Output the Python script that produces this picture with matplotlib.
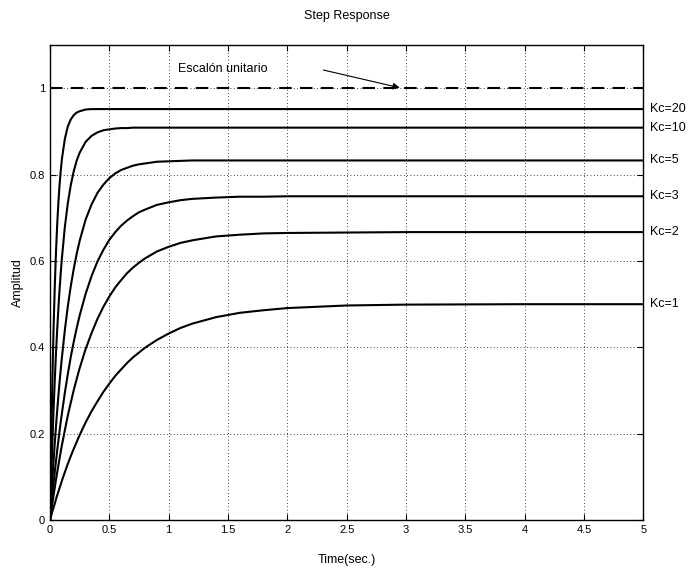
import matplotlib.pyplot as plt

plt.rcParams['font.family'] = ['Liberation Sans', 'DejaVu Sans']

# sample times (s) and amplitudes
t = [0, 0.01, 0.02, 0.03, 0.04, 0.05, 0.06, 0.07, 0.08, 0.09,
     0.1, 0.125, 0.15, 0.175, 0.2, 0.225, 0.25, 0.3, 0.35, 0.4,
     0.45, 0.5, 0.55, 0.6, 0.65, 0.7, 0.75, 0.8, 0.9, 1.0,
     1.1, 1.2, 1.4, 1.6, 1.8, 2.0, 2.5, 3.0, 4.0, 5.0]

y_kc1 = [0, .010, .020, .029, .038, .048, .057, .065, .074, .082,
         .091, .111, .130, .148, .165, .181, .197, .226, .252, .275,
         .297, .316, .334, .349, .364, .377, .388, .399, .417, .432,
         .445, .455, .470, .480, .486, .491, .497, .499, .500, .500]
y_kc2 = [0, .020, .039, .057, .075, .093, .110, .126, .142, .158,
         .173, .208, .242, .272, .301, .327, .352, .396, .433, .466,
         .494, .518, .539, .556, .572, .585, .596, .606, .622, .633,
         .642, .648, .657, .661, .664, .665, .666, .667, .667, .667]
y_kc3 = [0, .029, .058, .085, .111, .136, .160, .183, .205, .227,
         .247, .295, .338, .378, .413, .445, .474, .524, .565, .599,
         .626, .649, .667, .682, .694, .704, .713, .719, .730, .736,
         .741, .744, .747, .749, .749, .750, .750, .750, .750, .750]
y_kc5 = [0, .049, .094, .137, .178, .216, .252, .286, .318, .348,
         .376, .440, .495, .542, .582, .617, .647, .696, .731, .758,
         .777, .792, .803, .811, .816, .821, .824, .826, .830, .831,
         .832, .833, .833, .833, .833, .833, .833, .833, .833, .833]
y_kc10 = [0, .095, .180, .256, .324, .385, .439, .488, .532, .571,
          .606, .679, .734, .776, .808, .833, .851, .876, .890, .898,
          .903, .905, .907, .908, .908, .909, .909, .909, .909, .909,
          .909, .909, .909, .909, .909, .909, .909, .909, .909, .909]
y_kc20 = [0, .180, .327, .445, .541, .619, .682, .733, .775, .808,
          .836, .883, .912, .928, .938, .944, .947, .951, .952, .952,
          .952, .952, .952, .952, .952, .952, .952, .952, .952, .952,
          .952, .952, .952, .952, .952, .952, .952, .952, .952, .952]

curves = [y_kc1, y_kc2, y_kc3, y_kc5, y_kc10, y_kc20]
labels = ['Kc=1', 'Kc=2', 'Kc=3', 'Kc=5', 'Kc=10', 'Kc=20']
step_level = 1.0

xticks = [0, 0.5, 1, 1.5, 2, 2.5, 3, 3.5, 4, 4.5, 5]
yticks = [0, 0.2, 0.4, 0.6, 0.8, 1]

fig = plt.figure(figsize=(6.89, 5.7), dpi=100)
ax = fig.add_axes([0.0726, 0.0877, 0.861, 0.833])

for y in curves:
    ax.plot(t, y, color='black', lw=1.5)

ax.plot([t[0], t[-1]], [step_level, step_level], color='black', lw=1.5, linestyle=(0, (6, 4)))

for y, lab in zip(curves, labels):
    ax.text(5.06, y[-1], lab, fontsize=9, va='center', ha='left', clip_on=False)

ax.annotate('', xy=(2.97, step_level), xytext=(2.28, 1.044),
            arrowprops=dict(arrowstyle='-|>', color='black', lw=0.8, mutation_scale=10))
ax.text(1.08, 1.044, 'Escalón unitario', fontsize=9, va='center', ha='left')

ax.set_xlim(0, 5)
ax.set_ylim(0, 1.1)
ax.set_xticks(xticks)
ax.set_yticks(yticks)
ax.set_xticklabels([f'{v:g}' for v in xticks])
ax.set_yticklabels([f'{v:g}' for v in yticks])
ax.tick_params(direction='in', top=True, right=True, labelsize=8, length=4, width=0.8)
ax.grid(True, linestyle=(0, (1, 3)), color='black', lw=0.6)
for s in ax.spines.values():
    s.set_linewidth(1.0)

ax.set_title('Step Response', fontsize=9, pad=19)
ax.set_xlabel('Time(sec.)', fontsize=9, labelpad=14)
ax.set_ylabel('Amplitud', fontsize=9, labelpad=4)

fig.savefig('out.png', dpi=100)
